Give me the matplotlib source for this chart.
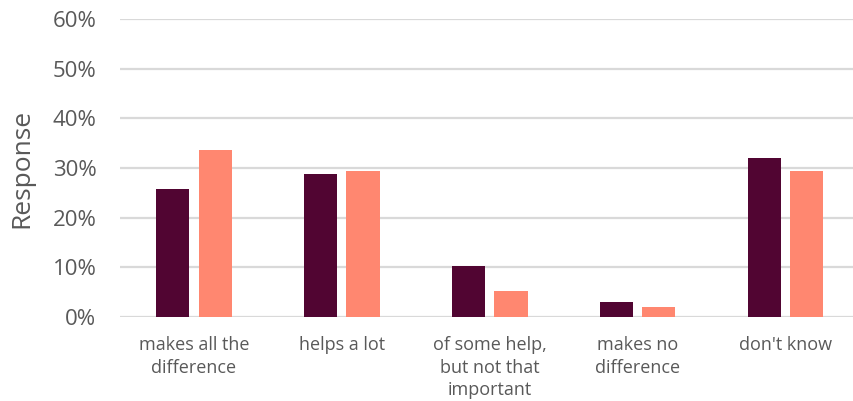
import numpy as np
import matplotlib
matplotlib.use('Agg')
import matplotlib.pyplot as plt
from matplotlib.ticker import PercentFormatter

plt.rcParams['font.family'] = ['Open Sans', 'DejaVu Sans']

# data
categories = ['makes all the\ndifference', 'helps a lot', 'of some help,\nbut not that\nimportant',
              'makes no\ndifference', "don't know"]
series_a = [0.258, 0.288, 0.103, 0.031, 0.320]
series_b = [0.337, 0.294, 0.053, 0.021, 0.294]

text_col = '#595959'

fig = plt.figure(figsize=(8.54, 4.01), dpi=100)
ax = fig.add_axes([0.1405, 0.2095, 0.8665, 0.7431])

x = np.arange(len(categories))
w = 0.223
ax.bar(x - 0.142, series_a, width=w, color='#510532', zorder=3)
ax.bar(x + 0.142, series_b, width=w, color='#FF8770', zorder=3)

ax.set_xlim(-0.5, len(categories) - 0.5)
ax.set_ylim(0, 0.6)
ax.set_yticks(np.arange(0, 0.61, 0.1))
ax.yaxis.set_major_formatter(PercentFormatter(1.0, decimals=0))
ax.grid(axis='y', color='#d9d9d9', linewidth=1.6, zorder=0)
ax.set_axisbelow(True)

ax.set_xticks(x)
ax.set_xticklabels(categories, fontsize=13, color=text_col, linespacing=1.3, va='top')
ax.tick_params(axis='x', length=0, pad=14)
ax.tick_params(axis='y', length=0, pad=17, labelsize=16, labelcolor=text_col)

for s in ax.spines.values():
    s.set_visible(False)

ax.set_ylabel('Response', fontsize=19, color=text_col, labelpad=13)

fig.savefig('out.png', dpi=100)
